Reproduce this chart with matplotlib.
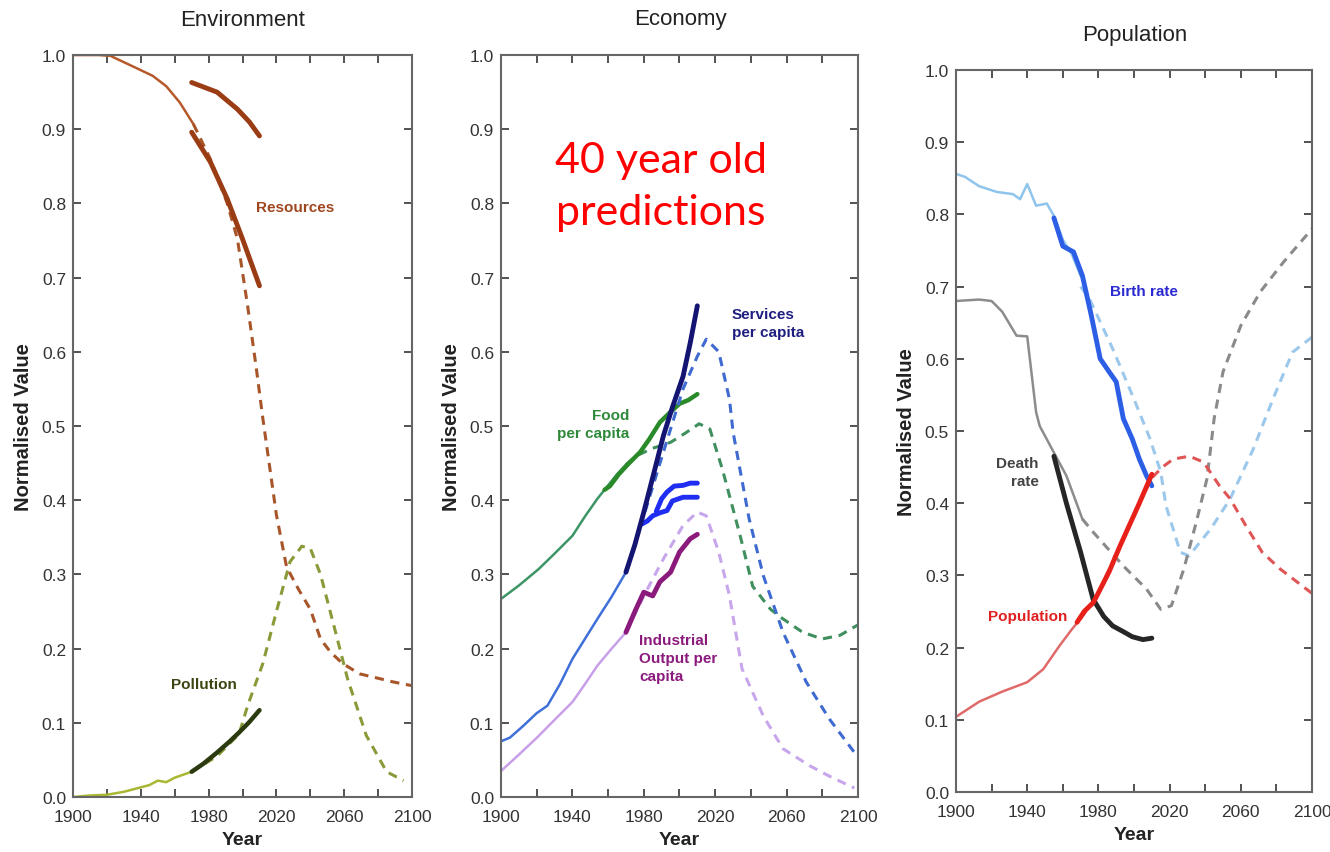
import matplotlib
matplotlib.use("Agg")
import matplotlib.pyplot as plt

plt.rcParams["font.family"] = ["Liberation Sans", "DejaVu Sans"]

# ---------------- Environment ----------------
res_model_yr = [1900, 1915, 1922, 1935, 1947, 1955, 1963, 1971]
res_model = [1.0, 1.0, 0.999, 0.985, 0.972, 0.958, 0.936, 0.907]
res_proj_yr = [1971, 1981, 1991, 1997, 2003, 2008, 2012, 2020, 2026, 2033, 2040, 2046, 2052, 2059, 2069, 2080, 2089, 2100]
res_proj = [0.907, 0.86, 0.80, 0.752, 0.662, 0.58, 0.51, 0.38, 0.31, 0.28, 0.253, 0.213, 0.195, 0.18, 0.166, 0.16, 0.155, 0.15]
res_data_lo_yr = [1970, 1981, 1991, 2000, 2010]
res_data_lo = [0.896, 0.856, 0.806, 0.752, 0.689]
res_data_hi_yr = [1970, 1985, 1997, 2004, 2010]
res_data_hi = [0.963, 0.95, 0.927, 0.91, 0.891]

pol_model_yr = [1900, 1910, 1920, 1930, 1940, 1945, 1950, 1955, 1960, 1965, 1970]
pol_model = [0.0, 0.002, 0.003, 0.007, 0.013, 0.016, 0.022, 0.02, 0.026, 0.03, 0.034]
pol_proj_yr = [1970, 1985, 1998, 2003, 2012, 2020, 2028, 2035, 2040, 2046, 2054, 2062, 2073, 2085, 2095]
pol_proj = [0.034, 0.055, 0.085, 0.123, 0.18, 0.25, 0.317, 0.338, 0.335, 0.30, 0.23, 0.159, 0.083, 0.034, 0.022]
pol_data_yr = [1970, 1977, 1985, 1992, 1998, 2004, 2010]
pol_data = [0.034, 0.045, 0.06, 0.074, 0.087, 0.101, 0.117]

# ---------------- Economy ----------------
food_model_yr = [1900, 1910, 1921, 1930, 1940, 1947, 1954, 1960, 1965, 1970]
food_model = [0.267, 0.285, 0.307, 0.328, 0.352, 0.378, 0.402, 0.42, 0.435, 0.448]
food_proj_yr = [1970, 1976, 1985, 1995, 2003, 2011, 2017, 2024, 2034, 2041, 2051, 2058, 2069, 2080, 2090, 2100]
food_proj = [0.448, 0.46, 0.47, 0.478, 0.49, 0.503, 0.496, 0.442, 0.352, 0.284, 0.253, 0.24, 0.222, 0.213, 0.218, 0.232]
food_data_yr = [1958, 1961, 1966, 1971, 1978, 1983, 1989, 1995, 2000, 2005, 2010]
food_data = [0.414, 0.419, 0.435, 0.448, 0.465, 0.482, 0.505, 0.519, 0.53, 0.535, 0.543]

serv_model_yr = [1900, 1905, 1913, 1920, 1926, 1933, 1940, 1947, 1954, 1962, 1970]
serv_model = [0.075, 0.08, 0.097, 0.113, 0.123, 0.152, 0.186, 0.213, 0.24, 0.27, 0.303]
serv_proj_yr = [1970, 1980, 1991, 2002, 2010, 2015, 2022, 2028, 2030, 2039, 2047, 2058, 2071, 2084, 2098]
serv_proj = [0.303, 0.379, 0.465, 0.55, 0.594, 0.617, 0.60, 0.536, 0.492, 0.375, 0.298, 0.222, 0.155, 0.105, 0.06]
serv_data_yr = [1970, 1975, 1980, 1986, 1991, 1996, 2002, 2006, 2010]
serv_data = [0.303, 0.34, 0.384, 0.44, 0.487, 0.525, 0.567, 0.612, 0.662]

blue_lo_yr = [1979, 1982, 1985, 1989, 1993, 1996, 2002, 2006, 2010]
blue_lo = [0.368, 0.372, 0.379, 0.383, 0.386, 0.399, 0.404, 0.404, 0.404]
blue_hi_yr = [1987, 1990, 1993, 1997, 2002, 2006, 2010]
blue_hi = [0.385, 0.402, 0.411, 0.419, 0.42, 0.423, 0.423]

ind_model_yr = [1900, 1910, 1921, 1930, 1940, 1947, 1954, 1962, 1970]
ind_model = [0.035, 0.057, 0.082, 0.104, 0.128, 0.152, 0.177, 0.2, 0.222]
ind_proj_yr = [1970, 1980, 1991, 2002, 2010, 2015, 2022, 2028, 2035, 2047, 2058, 2073, 2084, 2098]
ind_proj = [0.222, 0.271, 0.321, 0.366, 0.384, 0.379, 0.33, 0.271, 0.173, 0.109, 0.065, 0.042, 0.028, 0.012]
ind_data_yr = [1970, 1975, 1980, 1985, 1989, 1995, 2000, 2006, 2010]
ind_data = [0.222, 0.25, 0.276, 0.271, 0.29, 0.303, 0.33, 0.348, 0.354]

# ---------------- Population ----------------
birth_model_yr = [1900, 1905, 1913, 1923, 1932, 1936, 1940, 1945, 1951, 1955, 1960, 1965, 1970]
birth_model = [0.856, 0.852, 0.839, 0.831, 0.828, 0.821, 0.842, 0.812, 0.815, 0.798, 0.765, 0.745, 0.715]
birth_proj_yr = [1970, 1975, 1988, 2000, 2009, 2015, 2018, 2022, 2026, 2031, 2037, 2043, 2054, 2067, 2078, 2089, 2100]
birth_proj = [0.70, 0.683, 0.614, 0.544, 0.489, 0.443, 0.396, 0.364, 0.332, 0.327, 0.346, 0.364, 0.406, 0.475, 0.544, 0.609, 0.63]
birth_data_yr = [1955, 1960, 1966, 1971, 1976, 1981, 1986, 1990, 1994, 1999, 2003, 2007, 2010]
birth_data = [0.795, 0.756, 0.748, 0.715, 0.66, 0.60, 0.582, 0.568, 0.517, 0.489, 0.461, 0.438, 0.424]

death_model_yr = [1900, 1913, 1920, 1926, 1934, 1940, 1945, 1947, 1955, 1962, 1971]
death_model = [0.68, 0.682, 0.68, 0.665, 0.632, 0.631, 0.526, 0.507, 0.47, 0.438, 0.378]
death_proj_yr = [1971, 1977, 1994, 2007, 2015, 2021, 2028, 2035, 2041, 2045, 2050, 2060, 2071, 2084, 2100]
death_proj = [0.378, 0.36, 0.313, 0.281, 0.253, 0.258, 0.309, 0.374, 0.434, 0.517, 0.582, 0.646, 0.693, 0.734, 0.78]
death_data_yr = [1955, 1962, 1970, 1977, 1983, 1988, 1994, 1999, 2005, 2010]
death_data = [0.465, 0.40, 0.332, 0.267, 0.243, 0.23, 0.222, 0.215, 0.211, 0.213]

pop_model_yr = [1900, 1913, 1926, 1940, 1949, 1958, 1965, 1970]
pop_model = [0.104, 0.125, 0.139, 0.152, 0.17, 0.202, 0.225, 0.24]
pop_proj_yr = [1970, 1979, 1992, 2003, 2010, 2016, 2022, 2031, 2039, 2048, 2054, 2063, 2072, 2082, 2100]
pop_proj = [0.24, 0.271, 0.34, 0.40, 0.435, 0.45, 0.461, 0.465, 0.457, 0.424, 0.406, 0.368, 0.332, 0.309, 0.275]
pop_data_yr = [1968, 1972, 1977, 1979, 1986, 1992, 2003, 2010]
pop_data = [0.235, 0.25, 0.262, 0.271, 0.305, 0.34, 0.40, 0.44]

DASH = (0, (3, 2.2))

fig = plt.figure(figsize=(13.3, 8.53), dpi=100)
ax1 = fig.add_axes([0.0549, 0.0645, 0.2549, 0.8698])
ax2 = fig.add_axes([0.3767, 0.0645, 0.2684, 0.8698])
ax3 = fig.add_axes([0.7188, 0.0704, 0.2677, 0.8464])


def style(ax):
    ax.set_xlim(1900, 2100)
    ax.set_ylim(0, 1.0)
    ax.set_xticks(range(1900, 2101, 20))
    ax.set_xticklabels([str(y) if (y - 1900) % 40 == 0 else "" for y in range(1900, 2101, 20)])
    ax.set_yticks([i / 10 for i in range(11)])
    ax.set_yticklabels([f"{i / 10:.1f}" for i in range(11)])
    ax.tick_params(direction="in", top=True, right=True, length=6, width=1.3,
                   colors="#444444", labelsize=12.5, labelcolor="#333333", pad=5)
    ax.tick_params(axis="x", pad=9)
    for s in ax.spines.values():
        s.set_color("#666666")
        s.set_linewidth(1.5)
    ax.set_xlabel("Year", fontsize=14, fontweight="bold", color="#222222", labelpad=5)
    ax.set_ylabel("Normalised Value", fontsize=14.5, fontweight="bold", color="#222222", labelpad=6)


for ax in (ax1, ax2, ax3):
    style(ax)

# Environment
ax1.plot(res_model_yr, res_model, color="#b65a2c", lw=1.8)
ax1.plot(res_proj_yr, res_proj, color="#a8552a", lw=2.2, ls=DASH)
ax1.plot(res_data_hi_yr, res_data_hi, color="#9a3c14", lw=3.5, solid_capstyle="round")
ax1.plot(res_data_lo_yr, res_data_lo, color="#9a3c14", lw=3.5, solid_capstyle="round")
ax1.plot(pol_model_yr, pol_model, color="#a9b732", lw=1.8)
ax1.plot(pol_proj_yr, pol_proj, color="#8a9a38", lw=2.2, ls=DASH)
ax1.plot(pol_data_yr, pol_data, color="#2c3a10", lw=3.2, solid_capstyle="round")
ax1.text(2031, 0.795, "Resources", color="#a0461e", fontsize=11, fontweight="bold", ha="center", va="center")
ax1.text(1977, 0.152, "Pollution", color="#3a4512", fontsize=11, fontweight="bold", ha="center", va="center")

# Economy
ax2.plot(food_model_yr, food_model, color="#3d9566", lw=1.8)
ax2.plot(food_proj_yr, food_proj, color="#3f8f5f", lw=2.2, ls=DASH)
ax2.plot(food_data_yr, food_data, color="#2a8a2a", lw=3.2, solid_capstyle="round")
ax2.plot(serv_model_yr, serv_model, color="#3f6fd8", lw=1.8)
ax2.plot(serv_proj_yr, serv_proj, color="#3f6ad0", lw=2.2, ls=DASH)
ax2.plot(ind_model_yr, ind_model, color="#c8a0ea", lw=1.8)
ax2.plot(ind_proj_yr, ind_proj, color="#c8a6ec", lw=2.2, ls=DASH)
ax2.plot(ind_data_yr, ind_data, color="#8b1a7d", lw=3.5, solid_capstyle="round")
ax2.plot(blue_lo_yr, blue_lo, color="#1f2ef0", lw=3.5, solid_capstyle="round")
ax2.plot(blue_hi_yr, blue_hi, color="#1f2ef0", lw=3.5, solid_capstyle="round")
ax2.plot(serv_data_yr, serv_data, color="#141472", lw=3.5, solid_capstyle="round")
ax2.text(1971.7, 0.503, "Food\nper capita", color="#2e8a3a", fontsize=11, fontweight="bold",
         ha="right", va="center", multialignment="right", linespacing=1.35)
ax2.text(2029.4, 0.639, "Services\nper capita", color="#1e1e80", fontsize=11, fontweight="bold",
         ha="left", va="center", linespacing=1.35)
ax2.text(1977.3, 0.187, "Industrial\nOutput per\ncapita", color="#8b1a7d", fontsize=11, fontweight="bold",
         ha="left", va="center", linespacing=1.35)
ax2.text(1989.6, 0.823, "40 year old\npredictions", color="#ff0000", fontsize=31,
         family=["Lato", "DejaVu Sans"], ha="center", va="center", linespacing=1.45)

# Population
ax3.plot(birth_model_yr, birth_model, color="#8fc4ec", lw=1.8)
ax3.plot(birth_proj_yr, birth_proj, color="#9cc8ec", lw=2.2, ls=DASH)
ax3.plot(death_model_yr, death_model, color="#8c8c8c", lw=1.8)
ax3.plot(death_proj_yr, death_proj, color="#8a8a8a", lw=2.2, ls=DASH)
ax3.plot(pop_model_yr, pop_model, color="#e06a6a", lw=1.8)
ax3.plot(pop_proj_yr, pop_proj, color="#e05555", lw=2.2, ls=DASH)
ax3.plot(birth_data_yr, birth_data, color="#2d5ee6", lw=3.5, solid_capstyle="round")
ax3.plot(death_data_yr, death_data, color="#262626", lw=3.5, solid_capstyle="round")
ax3.plot(pop_data_yr, pop_data, color="#e8201a", lw=3.5, solid_capstyle="round")
ax3.text(1986.5, 0.694, "Birth rate", color="#2a2ad0", fontsize=11, fontweight="bold", ha="left", va="center")
ax3.text(1946.6, 0.443, "Death\nrate", color="#444444", fontsize=11, fontweight="bold",
         ha="right", va="center", multialignment="right", linespacing=1.35)
ax3.text(1940.4, 0.244, "Population", color="#e02020", fontsize=11, fontweight="bold", ha="center", va="center")

# panel titles
fig.text(243 / 1330, 1 - 20 / 853, "Environment", fontsize=16, color="#222222", ha="center", va="center")
fig.text(680 / 1330, 1 - 20 / 853, "Economy", fontsize=16, color="#222222", ha="center", va="center")
fig.text(1135 / 1330, 1 - 35 / 853, "Population", fontsize=16, color="#222222", ha="center", va="center")

fig.savefig("out.png", dpi=100, facecolor="white")
